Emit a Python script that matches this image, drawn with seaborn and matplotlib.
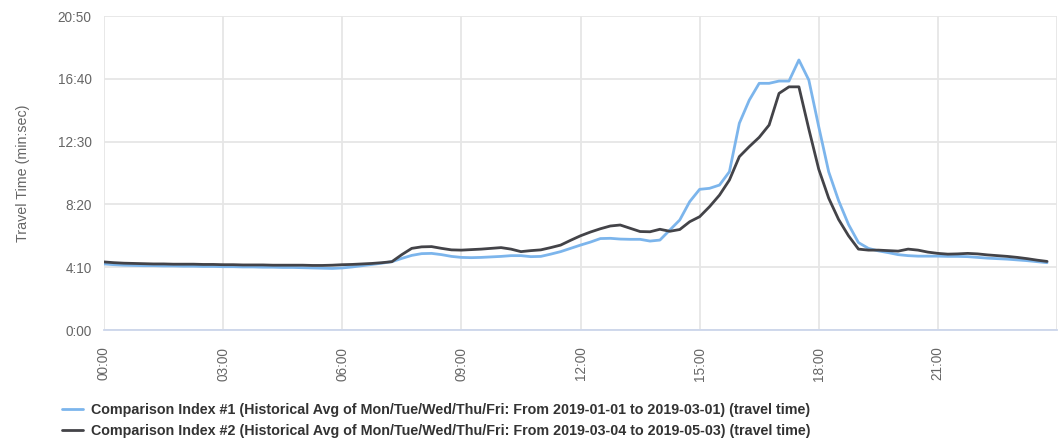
import numpy as np
import pandas as pd
import matplotlib.pyplot as plt
from matplotlib.ticker import FuncFormatter, MultipleLocator
import seaborn as sns

# === Data: 15-minute slots, travel time in seconds ===
slots = [f"{h:02d}:{m:02d}" for h in range(24) for m in (0, 15, 30, 45)]

label_1 = ("Comparison Index #1 (Historical Avg of Mon/Tue/Wed/Thu/Fri: "
           "From 2019-01-01 to 2019-03-01) (travel time)")
label_2 = ("Comparison Index #2 (Historical Avg of Mon/Tue/Wed/Thu/Fri: "
           "From 2019-03-04 to 2019-05-03) (travel time)")

index_1 = [
    263, 260, 258, 257, 256, 256, 255, 255, 254, 254, 253, 253, 252, 252, 251, 251,
    250, 250, 249, 249, 248, 247, 246, 245, 247, 251, 256, 261, 266, 272,
    285, 297, 304, 305, 300, 293, 289, 288, 289, 291, 293, 296, 296, 292, 293, 302,
    312, 325, 338, 350, 364, 365, 362, 361, 361, 354, 358, 398, 438, 511, 560, 564,
    577, 630, 823, 915, 982, 982, 991, 991, 1075, 995, 809, 630, 515, 420, 348, 325,
    315, 308, 300, 296, 294, 294, 294, 293, 293, 292, 289, 286, 284, 282, 279, 276,
    272, 268,
]
index_2 = [
    271, 268, 266, 265, 264, 263, 263, 262, 262, 262, 261, 261, 260, 260, 259, 259,
    259, 258, 258, 258, 258, 257, 257, 258, 260, 261, 263, 265, 268, 272,
    300, 325, 331, 332, 325, 319, 318, 320, 322, 325, 328, 322, 312, 316, 319, 328,
    338, 357, 375, 390, 403, 414, 418, 405, 392, 391, 401, 393, 400, 431, 451, 491,
    537, 597, 690, 730, 767, 816, 942, 968, 968, 800, 640, 525, 440, 375, 322, 318,
    318, 316, 314, 322, 318, 310, 305, 302, 303, 305, 303, 299, 296, 293, 289, 284,
    278, 273,
]

hours = [int(s[:2]) + int(s[3:]) / 60 for s in slots]
df = pd.DataFrame({
    "hour": hours * 2,
    "seconds": index_1 + index_2,
    "series": [label_1] * len(slots) + [label_2] * len(slots),
})

# === Style ===
sns.set_style("white")
plt.rcParams["font.family"] = ["Liberation Sans", "DejaVu Sans"]

fig = plt.figure(figsize=(10.61, 4.41), dpi=100)
ax = fig.add_axes([104 / 1061, 1 - 330 / 441, 953 / 1061, 314 / 441])

sns.lineplot(
    data=df, x="hour", y="seconds", hue="series",
    palette={label_1: "#7cb5ec", label_2: "#434348"},
    linewidth=2, ax=ax,
)

ax.set_xlim(0, 24)
ax.set_ylim(0, 1250)

# y ticks in min:sec
ax.yaxis.set_major_locator(MultipleLocator(250))
ax.yaxis.set_major_formatter(FuncFormatter(lambda v, _: f"{int(v) // 60}:{int(v) % 60:02d}"))
# x ticks every 3 h, minor every 30 min
ax.xaxis.set_major_locator(MultipleLocator(3))
ax.xaxis.set_minor_locator(MultipleLocator(0.5))
ax.xaxis.set_major_formatter(FuncFormatter(lambda v, _: f"{int(v):02d}:00" if v < 24 else ""))

ax.grid(True, which="major", color="#e6e6e6", linewidth=1.3)
ax.set_axisbelow(True)
for side in ["top", "right", "left"]:
    ax.spines[side].set_visible(False)
ax.spines["bottom"].set_color("#ccd6eb")
ax.spines["bottom"].set_linewidth(1.3)

ax.tick_params(axis="y", length=0, pad=9, labelsize=9.8, labelcolor="#666666")
ax.tick_params(axis="x", which="major", length=8, width=1.2, color="#ccd6eb",
               pad=4, labelsize=9.8, labelcolor="#666666", labelrotation=90)
ax.tick_params(axis="x", which="minor", length=4, width=1.2, color="#666666")

ax.set_xlabel("")
ax.set_ylabel("Travel Time (min:sec)", fontsize=10.3, color="#666666")
ax.yaxis.set_label_coords(-0.078, 0.5)

# Legend below the chart
handles, labels = ax.get_legend_handles_labels()
ax.legend(
    handles, labels,
    loc="center left", bbox_to_anchor=(62 / 1061, 1 - 420.5 / 441),
    bbox_transform=fig.transFigure, frameon=False,
    borderpad=0, borderaxespad=0, handlelength=1.45, handletextpad=0.55,
    labelspacing=0.47, prop={"size": 10.3, "weight": "bold"}, labelcolor="#333333",
)

fig.savefig("out.png", dpi=100)
